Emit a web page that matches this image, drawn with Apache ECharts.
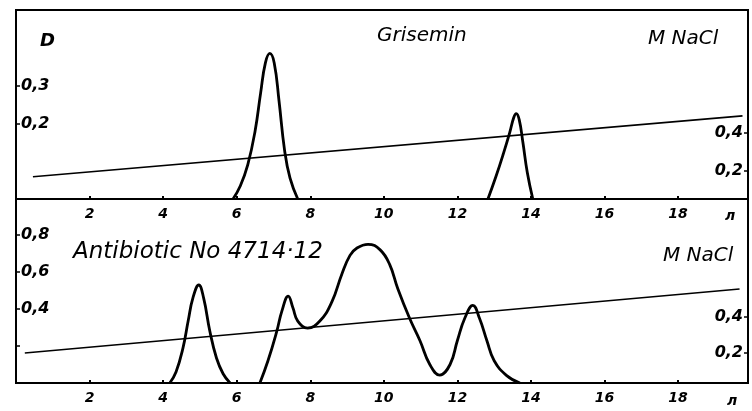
<!DOCTYPE html>
<html>
<head>
<meta charset="utf-8">
<script src="https://cdn.jsdelivr.net/npm/echarts@6/dist/echarts.min.js"></script>
<style>
html,body{margin:0;padding:0;background:#fff;}
#chart{width:752px;height:411px;}
</style>
</head>
<body>
<div id="chart"></div>
<script>
// ---- data ----
var xTicks = [2, 4, 6, 8, 10, 12, 14, 16, 18];
var topDTicks = [0.2, 0.3];
var topNaClTicks = [0.2, 0.4];
var botDTicks = [0.4, 0.6, 0.8];
var botDTickMarks = [0.2, 0.4, 0.6, 0.8];
var botNaClTicks = [0.2, 0.4];

// Grisemin (top panel)
var grisPeak1X = [5.9, 6.1, 6.3, 6.5, 6.65, 6.78, 6.9, 7.02, 7.15, 7.3, 7.45, 7.66];
var grisPeak1D = [0, 0.035, 0.09, 0.18, 0.28, 0.36, 0.385, 0.36, 0.26, 0.13, 0.055, 0];
var grisPeak2X = [12.83, 13.05, 13.25, 13.42, 13.53, 13.6, 13.68, 13.78, 13.9, 14.05];
var grisPeak2D = [0, 0.06, 0.12, 0.175, 0.215, 0.226, 0.21, 0.15, 0.07, 0];
var grisGradX = [0.46, 19.75];
var grisGradM = [0.168, 0.49];

// Antibiotic No 4714-12 (bottom panel)
var antiPeak1X = [4.18, 4.35, 4.54, 4.68, 4.81, 4.97, 5.1, 5.27, 5.45, 5.63, 5.82];
var antiPeak1D = [0, 0.06, 0.19, 0.335, 0.46, 0.53, 0.46, 0.28, 0.135, 0.05, 0];
var antiPeak2X = [6.63, 6.85, 7.09, 7.23, 7.4, 7.53, 7.66, 7.93, 8.26, 8.59, 8.86, 9.08, 9.27, 9.57, 9.9, 10.16, 10.38, 10.7, 10.98, 11.25, 11.52, 11.8, 12.0, 12.2, 12.42, 12.6, 12.8, 13.0, 13.34, 13.7];
var antiPeak2D = [0, 0.12, 0.28, 0.39, 0.47, 0.405, 0.335, 0.297, 0.335, 0.44, 0.59, 0.69, 0.73, 0.75, 0.72, 0.64, 0.51, 0.35, 0.23, 0.10, 0.043, 0.10, 0.23, 0.35, 0.42, 0.35, 0.23, 0.12, 0.04, 0];
var antiGradX = [0.24, 19.67];
var antiGradM = [0.2, 0.555];

// ---- build ----
function zip(xs, ys) { return xs.map(function (x, i) { return [x, ys[i]]; }); }
function comma(v) { return String(v).replace('.', ','); }

var FONT = 'DejaVu Sans';
var labelStyle = { color: '#000', fontFamily: FONT, fontStyle: 'italic', fontWeight: 'bold', fontSize: 13 };

function xAxisCfg(gi) {
  return {
    type: 'value', gridIndex: gi, min: 0, max: 19.9,
    axisLine: { show: true, lineStyle: { color: '#000', width: 2 } },
    axisTick: { show: true, inside: true, length: 3, lineStyle: { color: '#000', width: 2 }, customValues: xTicks },
    axisLabel: Object.assign({ customValues: xTicks, margin: 8 }, labelStyle, { fontSize: 14 }),
    splitLine: { show: false }
  };
}
function yAxisCfg(gi, pos, min, max, labels, ticks) {
  return {
    type: 'value', gridIndex: gi, position: pos, min: min, max: max,
    axisLine: { show: true, onZero: false, lineStyle: { color: '#000', width: 2 } },
    axisTick: { show: true, inside: true, length: 4, lineStyle: { color: '#000', width: 1.5 }, customValues: ticks },
    axisLabel: Object.assign({ inside: true, customValues: labels, margin: 5, formatter: comma }, labelStyle, { fontSize: 16 }),
    splitLine: { show: false }
  };
}
function curve(xi, yi, data, w) {
  return {
    type: 'line', xAxisIndex: xi, yAxisIndex: yi, data: data, smooth: 0.45,
    showSymbol: false, symbol: 'none', lineStyle: { color: '#000', width: w }, z: 5
  };
}
function text(t, left, top, size) {
  return {
    text: t, left: left, top: top,
    textStyle: { color: '#000', fontFamily: FONT, fontStyle: 'italic', fontWeight: 'normal', fontSize: size }
  };
}

var option = {
  backgroundColor: '#fff',
  animation: false,
  title: [
    { text: 'D', left: 35, top: 27, textStyle: { color: '#000', fontFamily: FONT, fontStyle: 'italic', fontWeight: 'bold', fontSize: 18 } },
    text('Grisemin', 372, 21, 20),
    text('M NaCl', 643, 24, 20),
    text('Antibiotic No 4714·12', 68, 236, 23),
    text('M NaCl', 658, 241, 20),
    { text: 'л', left: 720, top: 204, textStyle: Object.assign({}, labelStyle, { fontSize: 14 }) },
    { text: 'л', left: 722, top: 389, textStyle: Object.assign({}, labelStyle, { fontSize: 14 }) }
  ],
  grid: [
    { left: 16, right: 4, top: 10, height: 189, show: true, borderColor: '#000', borderWidth: 2 },
    { left: 16, right: 4, top: 199, height: 184, show: true, borderColor: '#000', borderWidth: 2 }
  ],
  xAxis: [xAxisCfg(0), xAxisCfg(1)],
  yAxis: [
    yAxisCfg(0, 'left', 0, 0.5, topDTicks, topDTicks),
    yAxisCfg(0, 'right', 0.05, 1.05, topNaClTicks, topNaClTicks),
    yAxisCfg(1, 'left', 0, 0.995, botDTicks, botDTickMarks),
    yAxisCfg(1, 'right', 0.033, 1.055, botNaClTicks, botNaClTicks)
  ],
  series: [
    curve(0, 0, zip(grisPeak1X, grisPeak1D), 2.8),
    curve(0, 0, zip(grisPeak2X, grisPeak2D), 2.8),
    curve(0, 1, zip(grisGradX, grisGradM), 1.6),
    curve(1, 2, zip(antiPeak1X, antiPeak1D), 2.8),
    curve(1, 2, zip(antiPeak2X, antiPeak2D), 2.8),
    curve(1, 3, zip(antiGradX, antiGradM), 1.6)
  ]
};

var chart = echarts.init(document.getElementById('chart'), null, { renderer: 'canvas' });
chart.setOption(option);
</script>
</body>
</html>
